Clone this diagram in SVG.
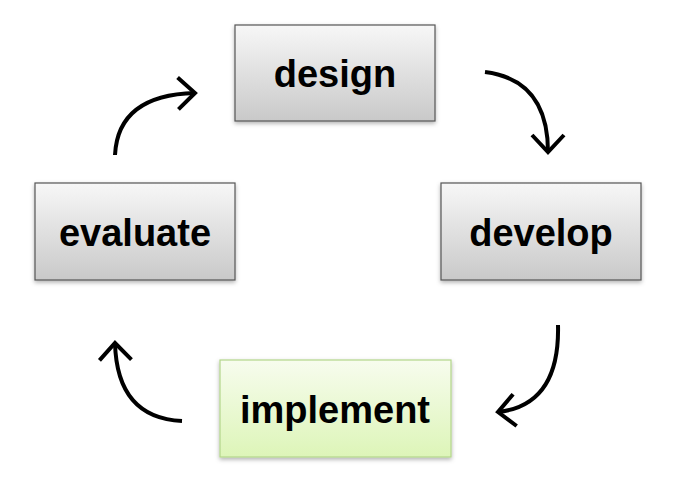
<svg xmlns="http://www.w3.org/2000/svg" width="687" height="489" viewBox="0 0 687 489">
<defs>
<linearGradient id="g" x1="0" y1="0" x2="0" y2="1"><stop offset="0" stop-color="#f7f7f7"/><stop offset="1" stop-color="#c9c9c9"/></linearGradient>
<linearGradient id="gg" x1="0" y1="0" x2="0" y2="1"><stop offset="0" stop-color="#f7fcee"/><stop offset="1" stop-color="#ddf5b8"/></linearGradient>
<filter id="sh" x="-10%" y="-10%" width="120%" height="130%"><feDropShadow dx="0" dy="2" stdDeviation="2" flood-opacity="0.3"/></filter>
<marker id="ah" viewBox="0 0 24 36" refX="19" refY="18" markerWidth="24" markerHeight="36" markerUnits="userSpaceOnUse" orient="auto"><polyline points="2,2 19,18 2,34" fill="none" stroke="#000" stroke-width="4"/></marker>
</defs>
<style>
.box{fill:url(#g);stroke:#555;stroke-width:1.2;filter:url(#sh)}
.t{font-family:"Liberation Sans",Arial,sans-serif;font-weight:bold;font-size:38px;text-anchor:middle;fill:#000}
.c{fill:none;stroke:#000;stroke-width:4;marker-end:url(#ah)}
</style>
<rect width="687" height="489" fill="#fff"/>
<g id="design"><rect class="box" x="235" y="25" width="200" height="96"/><text class="t" x="335" y="87">design</text></g>
<g id="develop"><rect class="box" x="441" y="183" width="200" height="97"/><text class="t" x="541" y="246">develop</text></g>
<g id="evaluate"><rect class="box" x="35" y="183" width="200" height="97"/><text class="t" x="135" y="246">evaluate</text></g>
<g id="implement"><rect class="box" style="fill:url(#gg);stroke:#b3d68a" x="220" y="360" width="231" height="97"/><text class="t" x="335" y="423">implement</text></g>
<g id="connectors">
<path class="c" d="M485,72 Q548,80 548,152"/>
<path class="c" d="M558,325 Q560,405 498,412"/>
<path class="c" d="M182,421 Q117,418 115,343"/>
<path class="c" d="M115,155 Q118,95 195,93"/>
</g>
</svg>
